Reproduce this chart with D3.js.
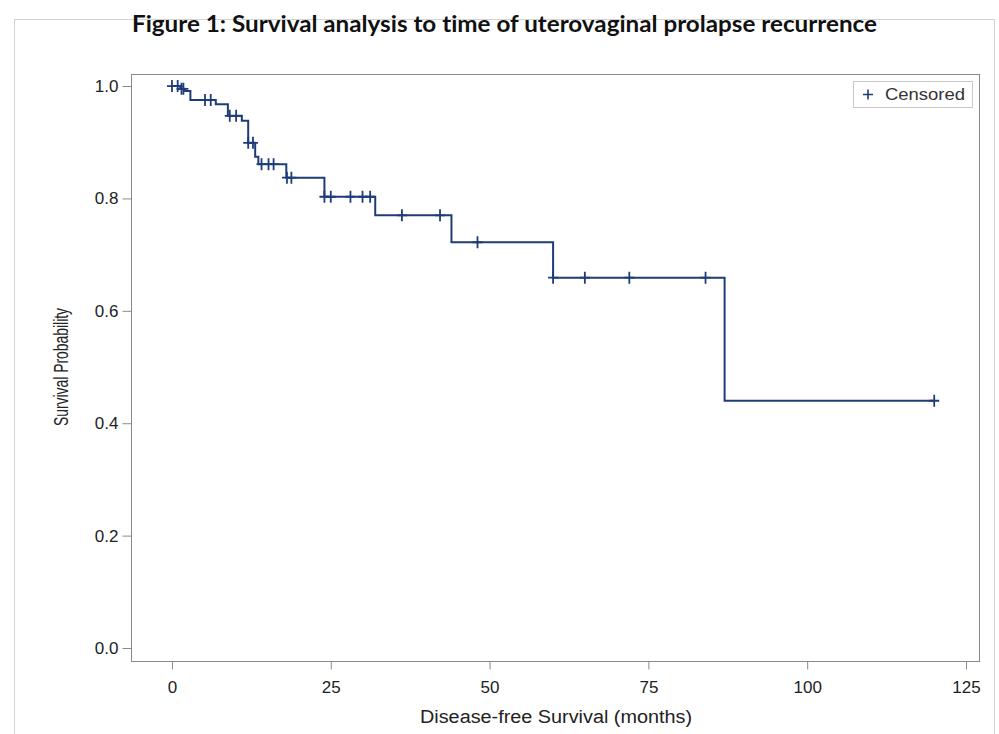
<!DOCTYPE html>
<html>
<head>
<meta charset="utf-8">
<script src="https://cdn.jsdelivr.net/npm/d3@7"></script>
<style>
  body { margin: 0; background: #fff; }
  .axis text { font-family: "Liberation Sans", Arial, sans-serif; font-size: 17px; fill: #222; }
  .axis line { stroke: #8a8a8a; }
</style>
</head>
<body>
<svg width="999" height="734"></svg>
<script>
// Kaplan-Meier curve, values

// event times (months) and survival right after each event
var eventTimes = [1.3, 2.0, 2.9, 6.9, 8.8, 11.0, 12.0, 13.1, 13.6, 18.0, 24.0, 32.0, 44.0, 60.0, 87.0];
var eventSurvival = [0.995, 0.991, 0.975, 0.9675, 0.947, 0.938, 0.899, 0.874, 0.861, 0.837, 0.803, 0.770, 0.722, 0.659, 0.440];

// censored observations (months)
var censorTimes = [0, 0.9, 1.5, 1.8, 5.2, 6.1, 9.1, 10.1, 12.0, 12.75, 14.1, 15.2, 16.0, 18.1, 18.8,
                   24.0, 25.0, 28.1, 30.0, 31.2, 36.2, 42.2, 48.1, 60.0, 65.0, 72.0, 84.0, 120.0];
var lastFollowUp = 120;

var xTicks = [0, 25, 50, 75, 100, 125];
var yTicks = [0.0, 0.2, 0.4, 0.6, 0.8, 1.0];

var titleLead = "Figure 1:";
var titleRest = " Survival analysis to time of uterovaginal prolapse recurrence";

var svg = d3.select("svg"),
    frame = {left: 131, top: 74, right: 979, bottom: 661},
    lineColor = "#1f3c78";

var x = d3.scaleLinear()
    .domain([-6.45, 127.05])
    .range([frame.left, frame.right]);

var y = d3.scaleLinear()
    .domain([-0.0231, 1.0214])
    .range([frame.bottom, frame.top]);

// survival at time t (step function, right-continuous)
function survivalAt(t) {
    var s = 1;
    for (var i = 0; i < eventTimes.length; i++) {
        if (eventTimes[i] <= t) s = eventSurvival[i];
    }
    return s;
}

// outer light border of the figure
svg.append("rect")
    .attr("x", 14.5).attr("y", 19.5)
    .attr("width", 980).attr("height", 730)
    .attr("fill", "none")
    .attr("stroke", "#d4d4d4");

// title
svg.append("text")
    .attr("x", 132)
    .attr("y", 32)
    .attr("textLength", 745)
    .attr("lengthAdjust", "spacingAndGlyphs")
    .style("font-family", "Lato, 'Open Sans', sans-serif")
    .style("font-weight", "bold")
    .style("font-size", "22px")
    .style("font-variant-ligatures", "none")
    .style("fill", "#111")
    .call(function(t) {
        t.append("tspan").text(titleLead);
        t.append("tspan").text(titleRest);
    });

// plot frame
svg.append("rect")
    .attr("x", frame.left + 0.5)
    .attr("y", frame.top + 0.5)
    .attr("width", frame.right - frame.left)
    .attr("height", frame.bottom - frame.top)
    .attr("fill", "none")
    .attr("stroke", "#8a8a8a");

svg.append("g")
    .attr("class", "axis axis--y")
    .attr("transform", "translate(" + (frame.left + 0.5) + ",0)")
    .call(d3.axisLeft(y).tickValues(yTicks).tickFormat(d3.format(".1f")).tickSize(9).tickPadding(4))
    .call(function(g) { g.select(".domain").remove(); });

svg.append("g")
    .attr("class", "axis axis--x")
    .attr("transform", "translate(0," + (frame.bottom + 0.5) + ")")
    .call(d3.axisBottom(x).tickValues(xTicks).tickSize(8).tickPadding(11))
    .call(function(g) { g.select(".domain").remove(); });

// axis titles
svg.append("text")
    .attr("transform", "translate(68," + 367 + ") rotate(-90)")
    .attr("textLength", 118)
    .attr("lengthAdjust", "spacingAndGlyphs")
    .style("text-anchor", "middle")
    .style("font-family", "'Liberation Sans', Arial, sans-serif")
    .style("font-size", "20px")
    .style("fill", "#222")
    .text("Survival Probability");

svg.append("text")
    .attr("x", 556)
    .attr("y", 723)
    .attr("textLength", 272)
    .attr("lengthAdjust", "spacingAndGlyphs")
    .style("text-anchor", "middle")
    .style("font-family", "'Liberation Sans', Arial, sans-serif")
    .style("font-size", "18px")
    .style("fill", "#222")
    .text("Disease-free Survival (months)");

// step curve
var curve = [{t: 0, s: 1}];
eventTimes.forEach(function(t, i) { curve.push({t: t, s: eventSurvival[i]}); });
curve.push({t: lastFollowUp, s: survivalAt(lastFollowUp)});

var stepLine = d3.line()
    .x(function(d) { return x(d.t); })
    .y(function(d) { return y(d.s); })
    .curve(d3.curveStepAfter);

svg.append("path")
    .datum(curve)
    .attr("class", "line")
    .attr("d", stepLine)
    .style("fill", "none")
    .attr("stroke", lineColor)
    .attr("stroke-width", 2);

// censor marks
svg.append("g").selectAll("path")
    .data(censorTimes)
    .enter().append("path")
    .attr("transform", function(d) { return "translate(" + x(d) + "," + y(survivalAt(d)) + ")"; })
    .attr("d", "M-5,0H5M0,-6V6")
    .attr("stroke", lineColor)
    .attr("stroke-width", 1.8)
    .attr("fill", "none");

// legend
var legend = svg.append("g").attr("transform", "translate(853,81)");
legend.append("rect")
    .attr("x", 0.5).attr("y", 0.5)
    .attr("width", 119).attr("height", 26)
    .attr("fill", "#fff")
    .attr("stroke", "#c8c8c8");
legend.append("path")
    .attr("d", "M10,13.5H20M15,8.5V18.5")
    .attr("stroke", lineColor)
    .attr("stroke-width", 1.6);
legend.append("text")
    .attr("x", 32)
    .attr("y", 19)
    .attr("textLength", 80)
    .attr("lengthAdjust", "spacingAndGlyphs")
    .style("font-family", "'Liberation Sans', Arial, sans-serif")
    .style("font-size", "17px")
    .style("fill", "#333")
    .text("Censored");
</script>
</body>
</html>
